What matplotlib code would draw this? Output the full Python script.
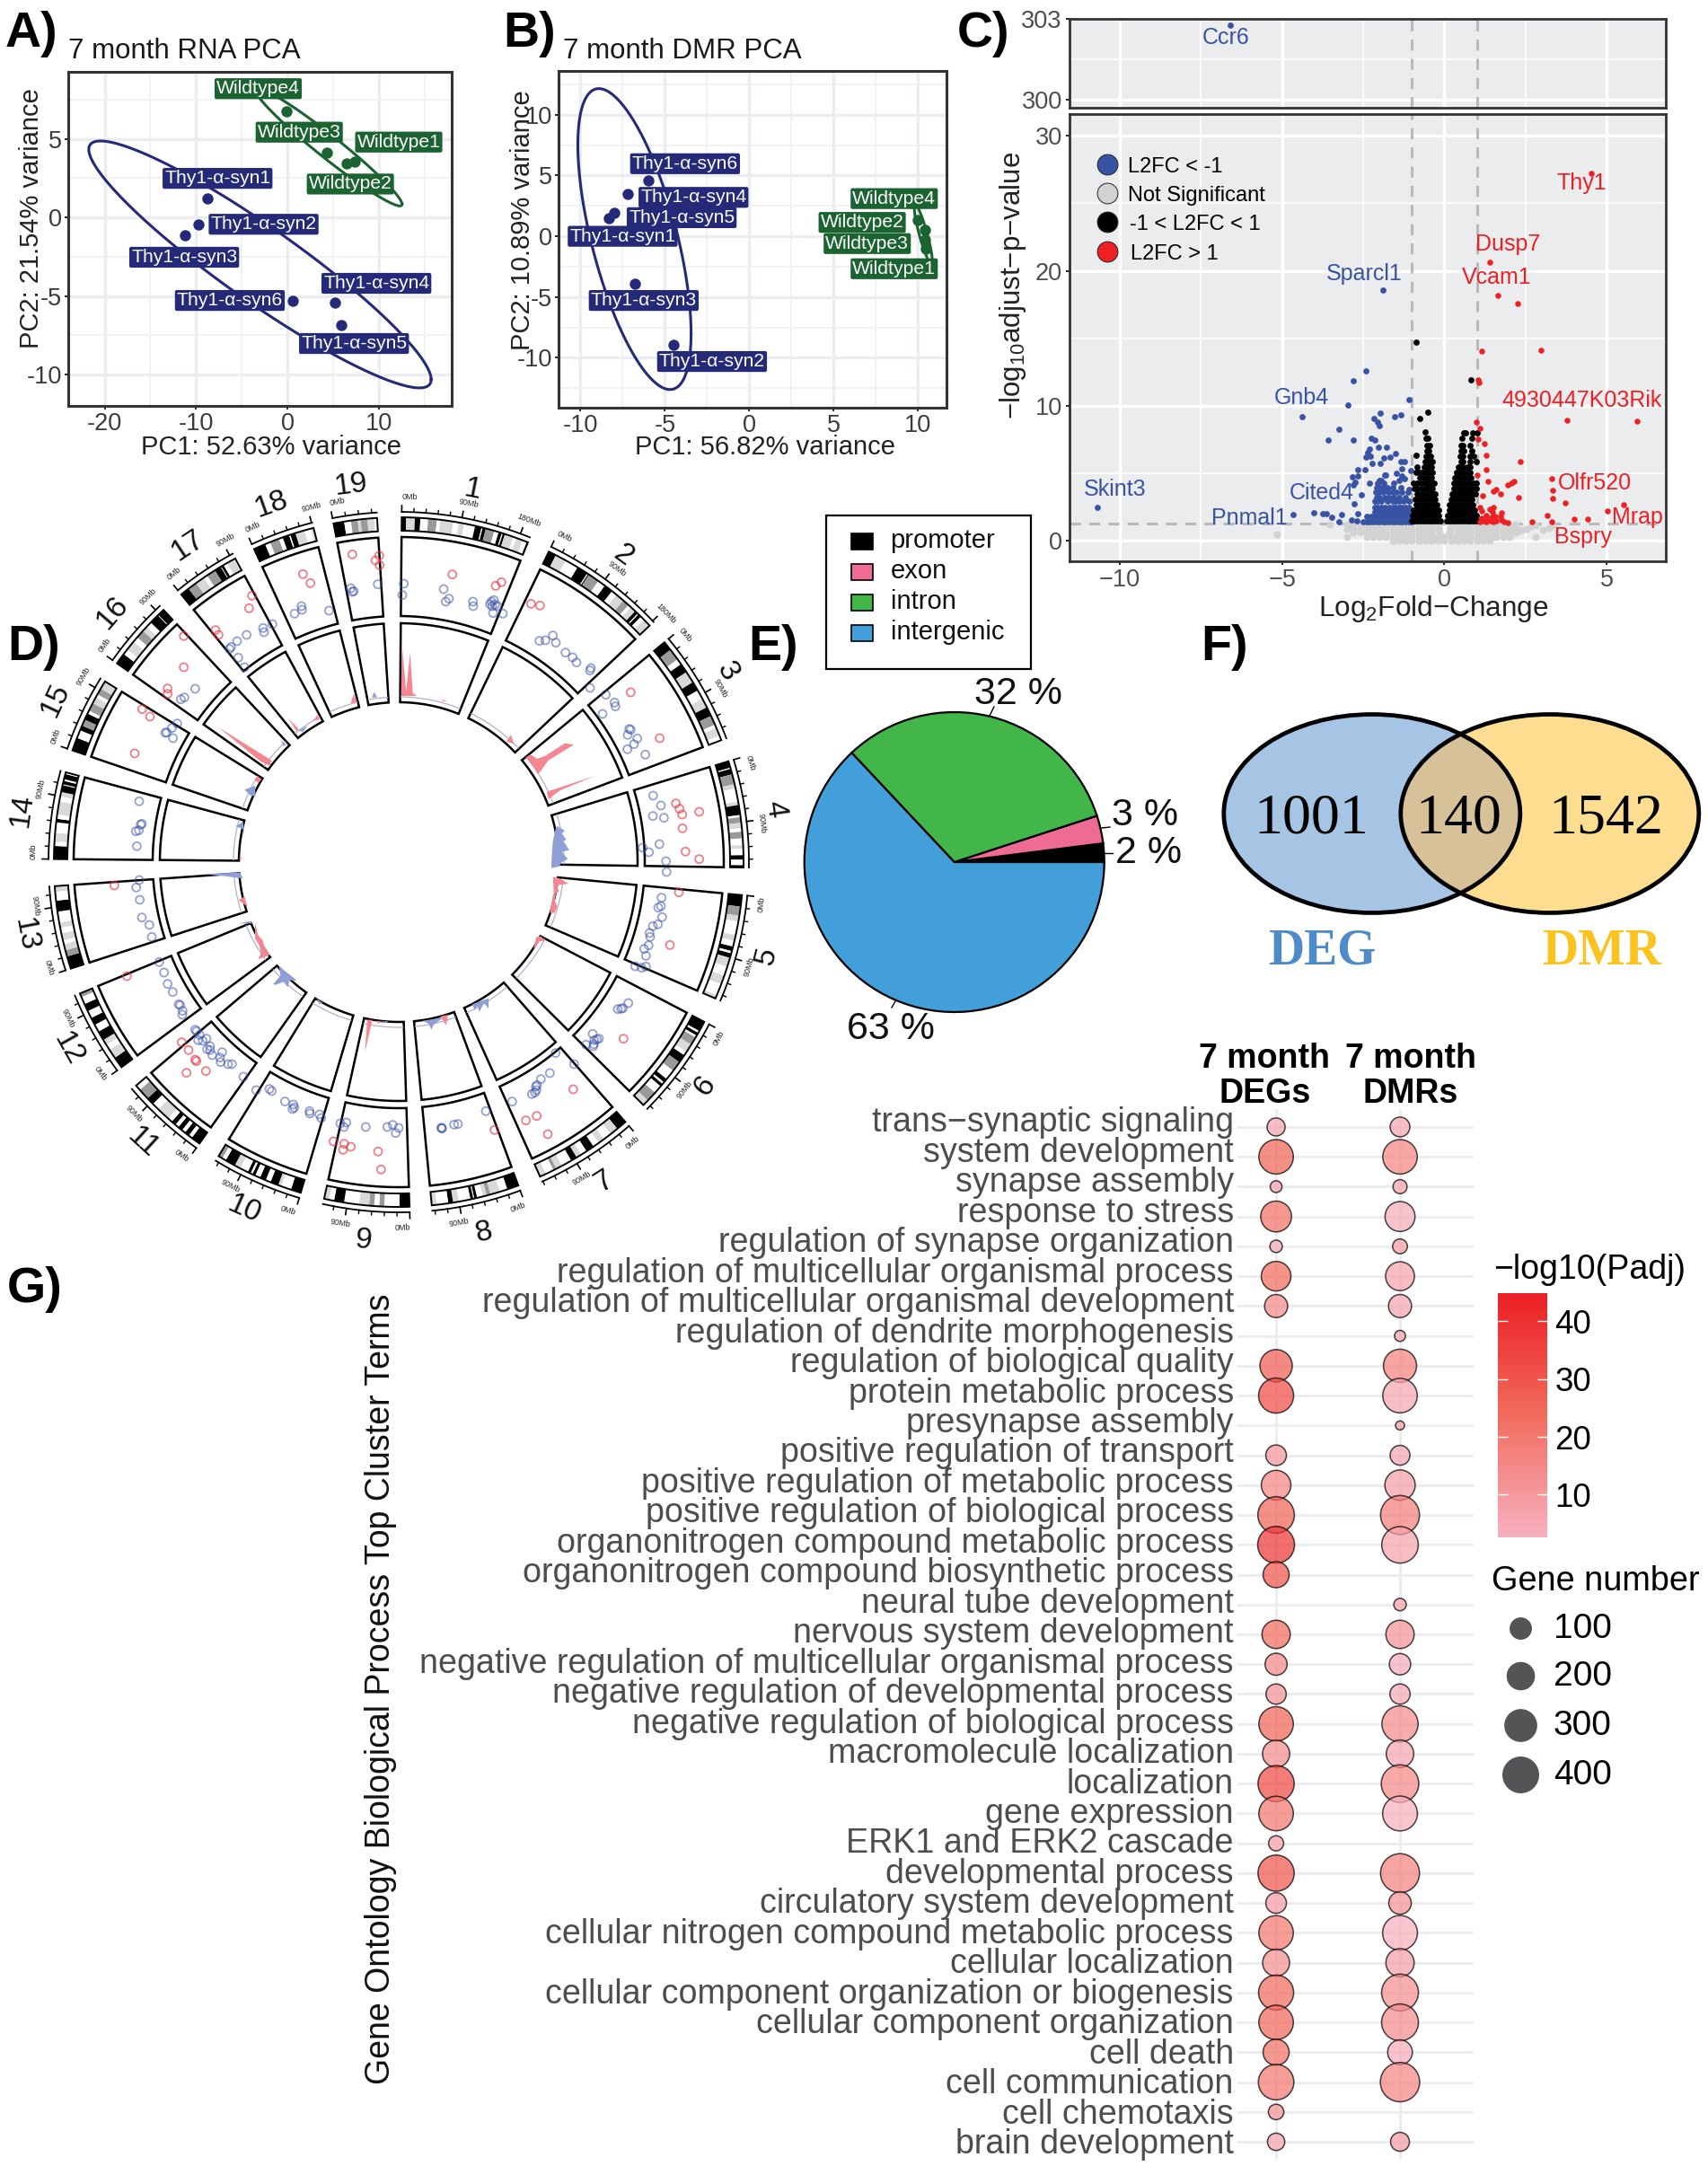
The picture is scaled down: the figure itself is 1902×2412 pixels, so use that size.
import numpy as np
import matplotlib
matplotlib.use('Agg')
import matplotlib.pyplot as plt
from matplotlib.patches import Ellipse, Rectangle, Polygon
from matplotlib.colors import LinearSegmentedColormap
from matplotlib.transforms import Affine2D

plt.rcParams['font.family'] = ['Liberation Sans', 'DejaVu Sans']
plt.rcParams['mathtext.fontset'] = 'custom'
plt.rcParams['mathtext.rm'] = 'Liberation Sans'
plt.rcParams['mathtext.default'] = 'regular'

W, H = 1902, 2412
NAVY, GREEN = '#252a78', '#1b6331'
VBLUE, VRED = '#3953a4', '#ed2024'

# ---------- Panel A / B data
a_thy_x = [-8.8, -9.7, -11.2, 0.6, 5.2, 5.9]
a_thy_y = [1.2, -0.44, -1.16, -5.29, -5.44, -6.85]
a_wt_x = [-0.1, 4.3, 6.5, 7.4]
a_wt_y = [6.77, 4.12, 3.43, 3.57]
a_labels = ['Thy1-α-syn1', 'Thy1-α-syn2', 'Thy1-α-syn3', 'Thy1-α-syn6', 'Thy1-α-syn4', 'Thy1-α-syn5',
            'Wildtype4', 'Wildtype3', 'Wildtype1', 'Wildtype2']
a_lab_x = [-7.65, -2.6, -11.3, -6.3, 9.75, 7.3, -3.2, 1.3, 12.2, 6.9]
a_lab_y = [2.48, -0.44, -2.54, -5.29, -4.2, -8.03, 8.19, 5.42, 4.79, 2.12]
b_thy_x = [-6, -7.2, -8.0, -8.3, -6.8, -4.5]
b_thy_y = [4.6, 3.46, 1.9, 1.46, -3.9, -8.9]
b_wt_x = [10, 10.4, 10.4, 10.5]
b_wt_y = [1.36, 0.5, -0.25, -1.0]
b_labels = ['Thy1-α-syn6', 'Thy1-α-syn4', 'Thy1-α-syn5', 'Thy1-α-syn1', 'Thy1-α-syn3', 'Thy1-α-syn2',
            'Wildtype4', 'Wildtype2', 'Wildtype3', 'Wildtype1']
b_lab_x = [-3.8, -3.3, -4.0, -7.5, -6.25, -2.2, 8.6, 6.7, 7.0, 8.6]
b_lab_y = [5.97, 3.2, 1.53, 0, -5.28, -10.3, 3.1, 1.14, -0.6, -2.67]

# ---------- Panel C data
ccr6 = (-6.6, 302.78)
blue_x = [-10.7, -1.89, -2.41, -2.81, -1.1, -2.97, -4.39, -1.97, -1.53, -1.35, -2.18, -2.06, -2.01, -3.25, -3.58,
          -2.81, -2.26, -2.13, -2.3, -2.02, -1.79, -2.36, -2.41, -2.29, -1.51, -1.67, -1.87, -2.22, -1.97, -1.35,
          -1.24, -2.67, -2.45, -1.48, -1.3, -1.85, -1.81, -1.04, -2.84, -2.68, -2.75, -2.82, -2.3, -1.3, -1.23,
          -2.55, -1.09, -2.78, -4.65, -4.02, -3.74, -3.63, -3.47, -3.16, -3.25, -2.86, -2.68, -2.7]
blue_y = [2.48, 18.58, 12.62, 11.89, 10.49, 10.05, 9.18, 9.45, 9.18, 9.31, 9.05, 8.83, 8.52, 8.29, 7.47,
          7.47, 7.58, 7.45, 6.79, 6.92, 6.92, 6.56, 6.21, 6.3, 6.48, 6.21, 6.17, 5.72, 5.72, 5.85,
          5.9, 5.28, 5.28, 5.01, 5.35, 4.9, 4.9, 5.23, 4.75, 4.79, 4.35, 4.17, 4.26, 4.79, 4.61,
          3.42, 3.81, 2.73, 1.95, 2.11, 2.0, 2.04, 1.73, 1.97, 1.4, 1.55, 2.0, 1.46]
blue_rows = {1.45: [-2.5, -2.4, -2.3, -2.2, -2.1, -2.0, -1.9, -1.8, -1.7, -1.6, -1.5, -1.4, -1.3, -1.2, -1.1, -1.02],
             1.8: [-2.4, -2.25, -2.15, -2.05, -1.95, -1.85, -1.75, -1.65, -1.55, -1.45, -1.35, -1.25, -1.15, -1.05],
             2.15: [-2.15, -2.05, -1.95, -1.85, -1.75, -1.65, -1.55, -1.45, -1.35, -1.25, -1.15, -1.03],
             2.5: [-2.15, -2.05, -1.95, -1.85, -1.7, -1.6, -1.5, -1.4, -1.3, -1.2, -1.1],
             2.95: [-2.15, -2.05, -1.95, -1.75, -1.6, -1.5, -1.4, -1.25, -1.1],
             3.25: [-2.1, -2.0, -1.85, -1.7, -1.55, -1.4, -1.2],
             3.6: [-2.12, -2.02, -1.9, -1.72, -1.6, -1.47, -1.3, -1.12],
             3.95: [-2.08, -1.98, -1.85, -1.75, -1.6, -1.35],
             4.3: [-2.05, -1.87, -1.55],
             4.5: [-2.0, -1.95, -1.4]}
black_x = [-0.88, 0.82, -0.77, -0.52, -0.6, -0.86]
black_y = [14.7, 11.9, 9.05, 9.51, 8.07, 6.34]
black_rows = {1.5: [-1.0, -.92, -.84, -.76, -.68, -.6, -.52, -.44, -.36, -.28, -.2, -.13,
                    .08, .16, .24, .32, .4, .48, .56, .64, .72, .8, .88, .96, 1.03],
              1.9: [-.98, -.9, -.82, -.74, -.66, -.58, -.5, -.42, -.34, -.26, -.18,
                    .1, .18, .26, .34, .42, .5, .58, .66, .74, .82, .9, .98],
              2.3: [-.95, -.87, -.79, -.71, -.63, -.55, -.47, -.39, -.31, -.23, -.17,
                    .14, .22, .3, .38, .46, .54, .62, .7, .78, .86, .94],
              2.7: [-.88, -.8, -.72, -.64, -.56, -.48, -.4, -.32, -.24,
                    .16, .24, .32, .4, .48, .56, .64, .72, .8, .88],
              3.1: [-.9, -.8, -.7, -.62, -.54, -.46, -.38, -.3,
                    .2, .28, .36, .44, .52, .6, .68, .76, .84],
              3.5: [-.85, -.76, -.68, -.6, -.52, -.44, -.36, -.3,
                    .24, .32, .4, .48, .56, .64, .72, .8, .88, .96],
              3.9: [-.92, -.84, -.7, -.6, -.52, -.44, -.36,
                    .28, .36, .44, .52, .6, .68, .76, .84, .98],
              4.3: [-.95, -.85, -.72, -.62, -.54, -.46, -.38, -.33,
                    .3, .38, .46, .54, .62, .7, .78, .9, .98],
              4.7: [-.75, -.65, -.56, -.48, -.4, .33, .41, .49, .57, .65, .73, .81],
              5.1: [-.88, -.78, -.7, -.6, -.52, -.44, -.38, .38, .46, .54, .62, .7, .78],
              5.5: [-.85, -.62, -.54, -.46, -.4, .42, .5, .58, .7, .78],
              5.9: [-.6, -.52, -.44, -.38, .5, .58, .78, .98],
              6.3: [-.58, -.5, -.42, .48, .56, .78, .9],
              6.7: [-.55, -.47, .5, .6, .85],
              7.1: [-.55, -.46, .5, .58, .8],
              7.6: [-.58, -.5, .55, .85],
              8.0: [.6, .65, .88, 1.0]}
red_x = [4.52, 1.39, 1.64, 2.25, 1.16, 2.97, 1.05, 1.07, .99, 1.08, 1.03, 1.23, 3.77, 5.93, 1.3, 2.33, 1.3, 1.01, 1.33,
         2.14, 2.05, 1.96, 3.3, 3.34, 3.34, 3.71, 1.51, 1.6, 1.72, 1.19, 2.27, 5.53, 5.01, 3.16, 3.32, 4.01, 4.41, 2.7,
         1.1, 1.16, 1.4, 1.51, 1.47, 1.28, 1.14, 1.2, 1.33, 1.45, 1.55, 1.75, 1.72, 1.42, 1.3, 1.1, 1.5, 1.6, 1.75, 1.85,
         1.95]
red_y = [27.2, 20.66, 18.2, 17.57, 14.06, 14.1, 11.95, 11.75, 8.8, 8.36, 7.54, 7.2, 8.94, 8.87, 6.37, 5.9, 5.26, 4.9, 4.44,
         4.41, 4.3, 4.12, 4.59, 3.73, 3.13, 2.84, 3.68, 3.79, 3.46, 3.33, 3.22, 2.66, 2.22, 1.86, 1.44, 1.64, 1.62, 1.4,
         2.46, 2.24, 2.35, 2.5, 2.13, 1.9, 1.7, 1.5, 1.6, 1.75, 1.85, 2.1, 1.85, 1.5, 1.45, 1.4, 1.45, 1.5, 1.55, 1.45,
         1.35]
grey_x = [-5.17, -3.0, -3.53, 2.82, 3.03, 3.22, 3.34, 2.25, 2.39, 2.53, 2.67, 2.8]
grey_y = [.47, .31, 1.24, .29, .84, .95, 1.13, .69, .8, .91, 1.06, 1.13]
grey_rows = {1.2: [-3.0, -2.8, -2.6, -2.4, -2.2, -2.0, -1.8, -1.6, -1.4, -1.2, -1.0, -.8, -.6, -.4, -.2,
                   .2, .4, .6, .8, 1.0, 1.2, 1.4, 1.6, 1.8, 2.0, 2.2],
             .9: [-3.0, -2.8, -2.6, -2.4, -2.2, -2.0, -1.8, -1.6, -1.4, -1.2, -1.0, -.8, -.6, -.4, -.17,
                  .17, .4, .6, .8, 1.0, 1.2, 1.4, 1.6, 1.8, 2.0, 2.2],
             .6: [-2.8, -2.6, -2.4, -2.2, -2.0, -1.8, -1.6, -1.4, -1.2, -1.0, -.8, -.6, -.4, -.14,
                  .14, .4, .6, .8, 1.0, 1.2, 1.4, 1.6, 1.8, 2.0, 2.2],
             .3: [-2.4, -2.2, -2.0, -1.8, -1.6, -1.4, -1.2, -1.0, -.8, -.6, -.4, -.2, 0,
                  .2, .4, .6, .8, 1.0, 1.2, 1.4, 1.6, 1.8, 2.0],
             .05: [-1.6, -1.4, -1.2, -1.0, -.8, -.6, -.4, -.2, 0, .2, .4, .6, .8, 1.0, 1.2, 1.4]}
gene_names = ['Thy1', 'Dusp7', 'Vcam1', 'Sparcl1', 'Gnb4', '4930447K03Rik', 'Olfr520', 'Skint3', 'Cited4', 'Pnmal1',
              'Mrap', 'Bspry']
gene_x = [4.23, 1.95, 1.62, -2.48, -4.4, 4.23, 4.63, -10.14, -3.79, -6.0, 5.95, 4.27]
gene_y = [26.45, 21.95, 19.47, 19.8, 10.6, 10.4, 4.27, 3.8, 3.58, 1.66, 1.74, 0.32]
gene_col = [VRED, VRED, VRED, VBLUE, VBLUE, VRED, VRED, VBLUE, VBLUE, VBLUE, VRED, VRED]

# ---------- Panel D data (circos)
chrom_names = [str(i) for i in range(1, 20)]
chrom_mb = [195, 182, 160, 156, 152, 150, 145, 130, 124, 131, 122, 120, 120, 125, 104, 98, 95, 91, 61]
chrom_start = [.5, 25.8, 50.4, 73, 95.5, 117.6, 138.9, 159.7, 178.2, 196.5, 215.3, 233.5, 252, 270.5, 288.9, 305.2,
               320.9, 335.2, 349.1]
chrom_end = [22, 46.7, 69.3, 90.9, 113.3, 134.8, 155.8, 174.5, 192.5, 211.5, 229.6, 247.6, 266, 285.1, 301.6, 317,
             331.7, 345.7, 356.4]
ideo = ['k4 l8 k5 w7 g8 w3 l12 w5 l5 w10 k6 w1 k3 g8 w4 k3 w1 k2 l8 w3 l6 w4 k1',
        'k7 l10 w12 k10 w1 k1 g10 w7 k8 w5 l8 g6 w3 l5 k3 w1 k3 w4 l7',
        'k8 g10 w5 k8 l10 k8 w8 l8 k8 g8 w3 l7 w4',
        'k6 w1 k5 g9 l4 w12 l3 k9 w2 g5 l5 w3 g6 w6 l3 w6 k4 w5 k2',
        'k10 g8 l5 w12 l5 w5 k4 w2 k4 l8 w8 l8 w10 l3',
        'k10 w2 k3 w2 g8 l8 w4 k8 g10 w10 k4 w2 k3 w8 g10 l6',
        'k10 l8 w8 l6 w6 k8 w6 l5 k6 w10 l6 g3 w8 l6',
        'k12 w8 l10 g4 l4 w6 k3 w1 k3 w12 l6 k5 w12 l5',
        'k8 w12 g4 w4 g4 l8 w12 k8 w4 l4',
        'k10 w10 l3 k8 w5 k6 w5 k3 w2 k3 w8 l6 k10 w4 g4',
        'k10 w4 k5 w4 k5 w4 k5 w5 l14 w8 k8 g12 w6',
        'k12 l10 w6 l6 k10 w8 k8 w8 k8 w8 g4',
        'k14 g7 l7 w4 l8 w6 l6 w12 k12 w10 l6',
        'k15 w5 l10 w12 k4 w5 l15 w6 l5 k8 w1 k4 w2 k6 w2',
        'k16 w10 k6 g8 k8 w4 g10 l8 w4 g8 l10',
        'k16 w8 l14 w8 g12 l8 w8 k14 w1 k10',
        'k14 g14 l14 w6 g14 k10 w1 k4 w6 l12 w2',
        'k18 w8 g14 w6 k10 w2 k8 l14 w10 l4',
        'k22 w14 g14 l6 g14 l14 w6']
# circos points, read per quadrant (x, y measured from the quadrant's outer corner)
blue_q1 = [(17,270),(12,308),(150,288),(168,320),(157,330),(248,330),(249,345),(310,330),(318,325),(305,338),(322,340),
           (312,345),(330,345),(315,368),(348,370),(470,461),(490,459),(515,443),(525,467),(557,500),(581,516),(594,533),
           (642,552),(639,560),(639,618),(692,641),(721,667),(724,680),(681,705),(770,755),(775,758),(765,775),(797,787),
           (786,806),(764,823),(824,841),(850,978),(876,1011),(849,1046),(886,1052),(871,1140),(815,1152),(836,1167),(893,1197)]
red_q1 = [(179,239),(343,265),(324,277),(442,337),(472,343),(775,633),(872,786),(926,1004),(938,1022),(947,1041),(1004,1032),
          (948,1087),(958,1165),(1004,1190)]
blue_q2 = [(895,33),(878,119),(876,147),(867,152),(880,184),(866,208),(849,214),(838,237),(840,250),(835,278),(820,290),
           (826,313),(826,349),(811,353),(790,348),(767,471),(749,488),(743,490),(732,491),(648,574),(669,590),(662,592),
           (653,595),(626,610),(650,615),(652,608),(524,638),(586,675),(505,705),(475,725),(462,745),(458,750),(460,762),
           (445,775),(455,770),(379,800),(291,832),(198,875),(185,877),(143,888),(143,888),(145,890)]
red_q2 = [(936,101),(906,277),(751,590),(583,759),(461,848),(425,863),(498,909),(320,895)]
blue_q3 = [(333,60),(323,85),(335,126),(342,185),(367,210),(375,250),(400,334),(416,369),(428,407),(445,434),(465,475),
           (470,478),(478,497),(477,510),(520,560),(525,565),(535,577),(530,595),(545,597),(558,590),(570,615),(560,625),
           (570,628),(577,645),(610,635),(603,653),(605,668),(630,675),(643,675),(681,717),(724,762),(768,758),(776,765),
           (820,800),(848,810),(845,825),(851,820),(902,832),(903,840),(935,843),(941,855),(1005,873),(1025,870),(1017,885),
           (1090,885),(1162,885),(1180,878),(1190,905),(1200,888)]
red_q3 = [(250,78),(292,381),(475,602),(498,628),(520,660),(524,665),(491,704),(556,698),(982,933),(1018,941),(1040,951),
          (1014,961),(1131,967),(1141,1027)]
blue_q4 = [(1130,272),(1040,285),(1050,295),(1045,297),(967,360),(875,345),(877,357),(852,370),(778,405),(747,418),(750,432),
           (692,441),(660,462),(640,481),(635,488),(664,517),(685,549),(520,621),(484,650),(472,656),(460,737),(442,752),
           (425,767),(420,768),(446,786),(333,997),(342,1072),(338,1075),(332,1094),(322,1097),(325,1147)]
red_q4 = [(1045,172),(1135,176),(1122,192),(1136,208),(880,238),(905,268),(710,310),(700,352),(588,425),(598,441),(482,445),
          (482,549),(428,620),(428,638),(343,689),(369,714),(318,837)]
# density-track peaks per quadrant
peaks_red_q1 = [[(8,645),(10,465),(25,630),(38,500),(47,635),(60,645)], [(140,660),(150,658),(165,665)],
                [(360,797),(375,775),(385,805)],
                [(425,850),(440,840),(462,855),(490,845),(555,803),(585,808),(500,860),(475,895),(465,905),(445,875)],
                [(495,965),(655,912),(540,960),(500,990)]]
peaks_blue_q1 = [[(525,1085),(530,1080),(555,1095),(545,1105),(560,1125),(550,1130),(570,1160),(545,1165),(565,1190),(545,1200),(510,1200),(515,1130)]]
peaks_blue_q2 = [[(510,0),(545,0),(535,15),(510,20)],
                 [(245,475),(300,455),(300,490),(285,470),(270,500),(262,480),(255,495)],
                 [(80,530),(150,520),(135,530),(115,545),(110,560),(100,540)]]
peaks_red_q2 = [[(515,50),(530,52),(568,72),(530,77),(535,98),(525,105),(522,130),(530,150),(520,170),(505,170),(510,135),(518,100)],
                [(460,250),(475,248),(490,262),(470,265),(460,280),(450,290)],
                [(140,515),(165,510),(158,545)]]
peaks_red_q3 = [[(1095,527),(1112,527),(1087,635)], [(1120,530),(1135,540),(1140,532)],
                [(720,200),(730,245),(745,260),(750,280),(770,310),(730,325),(740,305),(735,280),(720,255)],
                [(665,127),(685,115),(695,150)]]
peaks_blue_q3 = [[(1140,532),(1160,538),(1165,532)], [(925,455),(945,470),(935,475)],
                 [(800,345),(815,360),(860,395),(835,395),(830,418),(815,400),(790,410),(780,408),(805,380)],
                 [(665,205),(700,198),(718,205)], [(545,40),(670,35),(680,55),(620,47)]]
peaks_blue_q4 = [[(680,1065),(685,1120),(680,1090),(655,1080)], [(685,958),(720,945),(722,980),(705,978)],
                 [(805,790),(825,810),(815,812)], [(865,760),(895,745),(880,765)], [(1110,650),(1118,632),(1128,650)]]
peaks_red_q4 = [[(670,1170),(675,1190),(668,1190)], [(718,925),(728,912),(742,925),(730,935)],
                [(598,750),(775,860),(770,878),(740,865)], [(830,718),(865,755),(860,765)],
                [(915,725),(930,708),(935,725)], [(1040,668),(1050,638),(1060,668)]]

# ---------- Panel E / F data
pie_values = [2, 3, 32, 63]
pie_names = ['promoter', 'exon', 'intron', 'intergenic']
pie_colors = ['#000000', '#ee6c92', '#43b649', '#429fda']
pie_text = ['2 %', '3 %', '32 %', '63 %']
venn_counts = [1001, 140, 1542]
venn_names = ['DEG', 'DMR']

# ---------- Panel G data
terms = ['trans−synaptic signaling', 'system development', 'synapse assembly', 'response to stress',
         'regulation of synapse organization', 'regulation of multicellular organismal process',
         'regulation of multicellular organismal development', 'regulation of dendrite morphogenesis',
         'regulation of biological quality', 'protein metabolic process', 'presynapse assembly',
         'positive regulation of transport', 'positive regulation of metabolic process',
         'positive regulation of biological process', 'organonitrogen compound metabolic process',
         'organonitrogen compound biosynthetic process', 'neural tube development', 'nervous system development',
         'negative regulation of multicellular organismal process', 'negative regulation of developmental process',
         'negative regulation of biological process', 'macromolecule localization', 'localization', 'gene expression',
         'ERK1 and ERK2 cascade', 'developmental process', 'circulatory system development',
         'cellular nitrogen compound metabolic process', 'cellular localization',
         'cellular component organization or biogenesis', 'cellular component organization', 'cell death',
         'cell communication', 'cell chemotaxis', 'brain development']
nan = float('nan')
deg_n = [51, 338, 14, 250, 16, 224, 110, nan, 285, 352, nan, 78, 224, 393, 401, 157, nan, 197, 96, 74, 338, 177, 383,
         338, 29, 383, 78, 338, 173, 352, 338, 157, 364, 31, 45]
dmr_n = [68, 338, 23, 232, 27, 209, 110, 12, 304, 338, 10, 69, 240, 463, 393, nan, 16, 197, 87, 74, 383, 183, 421, 347,
         nan, 463, 102, 347, 197, 401, 401, 135, 474, nan, 59]
deg_p = [6, 26, 7, 22, 5, 24, 15, nan, 28, 32, nan, 11, 16, 26, 38, 30, nan, 24, 15, 12, 26, 14, 33, 20, 8, 30, 9, 20,
         13, 24, 25, 22, 20, 12, 7]
dmr_p = [6, 16, 7, 4, 8, 7, 6, 6, 17, 6, 8, 6, 8, 18, 7, nan, 7, 12, 4, 5, 14, 6, 15, 3, nan, 17, 12, 3, 8, 13, 14, 4,
         16, nan, 9]
legend_counts = [100, 200, 300, 400]

# ---------- helpers
fig = plt.figure(figsize=(W / 100, H / 100), dpi=100, facecolor='white')


def axpx(l, t, r, b, **kw):
    return fig.add_axes([l / W, 1 - b / H, (r - l) / W, (b - t) / H], **kw)


def pair_rows(rows):
    xs, ys = [], []
    for y, vals in rows.items():
        xs += vals
        ys += [y] * len(vals)
    return xs, ys


def ellipse_curve(x, y, k=2.4):
    pts = np.c_[x, y]
    c = np.cov(pts.T)
    L = np.linalg.cholesky(c)
    t = np.linspace(0, 2 * np.pi, 200)
    e = pts.mean(0) + k * (L @ np.c_[np.cos(t), np.sin(t)].T).T
    return e[:, 0], e[:, 1]


def pca_panel(box, xlim, ylim, xt, xtl, yt, ytl, xm, ym, thy, wt, labels, lx, ly):
    ax = axpx(*box)
    ax.set_xlim(xlim)
    ax.set_ylim(ylim)
    ax.set_xticks(xt, xtl)
    ax.set_yticks(yt, ytl)
    ax.set_xticks(xm, minor=True)
    ax.set_yticks(ym, minor=True)
    ax.grid(which='major', color='#ebedf0', lw=2.4)
    ax.grid(which='minor', color='#f0f0f2', lw=1.2)
    ax.set_axisbelow(True)
    ax.tick_params(which='minor', length=0)
    ax.tick_params(which='major', length=3, width=1.2, labelsize=19.5, labelcolor='#3a3a3a', pad=2)
    for s in ax.spines.values():
        s.set_linewidth(2.2)
        s.set_color('#333333')
    for (x, y), col in ((thy, NAVY), (wt, GREEN)):
        ex, ey = ellipse_curve(x, y)
        ax.plot(ex, ey, color=col, lw=2.2, zorder=2)
        ax.scatter(x, y, s=80, color=col, zorder=3, lw=0)
    for n, x, y in zip(labels, lx, ly):
        col = GREEN if n.startswith('Wild') else NAVY
        ax.text(x, y, n, color='white', fontsize=15.2, ha='center', va='center', zorder=4, clip_on=False,
                bbox=dict(boxstyle='round,pad=0.1,rounding_size=0.1', fc=col, ec='none'))
    return ax


ax_a = pca_panel((76, 80, 503, 452), (-24, 18), (-12, 9.26), [-20, -10, 0, 10], ['-20', '-10', '0', '10'],
                 [-10, -5, 0, 5], ['-10', '-5', '0', '5'], [-15, -5, 5, 15], [-7.5, -2.5, 2.5, 7.5],
                 (a_thy_x, a_thy_y), (a_wt_x, a_wt_y), a_labels, a_lab_x, a_lab_y)
ax_b = pca_panel((622, 79, 1054, 454), (-11.3, 11.7), (-14.1, 13.6), [-10, -5, 0, 5, 10], ['-10', '-5', '0', '5', '10'],
                 [-10, -5, 0, 5, 10], ['-10', '-5', '0', '5', '10'], [-7.5, -2.5, 2.5, 7.5],
                 [-12.5, -7.5, -2.5, 2.5, 7.5, 12.5],
                 (b_thy_x, b_thy_y), (b_wt_x, b_wt_y), b_labels, b_lab_x, b_lab_y)

# ---------- Panel C
GBG = '#ebecee'
xl = (-11.55, 6.82)
c_top = axpx(1191, 21, 1855, 120)
c_bot = axpx(1191, 127, 1855, 625)
for ax in (c_top, c_bot):
    ax.set_facecolor(GBG)
    ax.set_xlim(xl)
    ax.set_xticks([-10, -5, 0, 5])
    ax.set_xticks([-7.5, -2.5, 2.5], minor=True)
    ax.grid(which='major', color='white', lw=2.4)
    ax.grid(which='minor', color='white', lw=1.2)
    ax.set_axisbelow(True)
    ax.tick_params(which='minor', length=0)
    ax.tick_params(which='major', length=3, width=1.2, labelsize=19.5, labelcolor='#4d4d4d', pad=3)
    for s in ax.spines.values():
        s.set_linewidth(2)
        s.set_color('#333333')
    for v in (-1, 1):
        ax.axvline(v, color='#b9b9b9', lw=2.2, ls=(0, (4, 3)), zorder=1)
c_top.set_ylim(299.71, 303)
c_top.set_yticks([300, 303])
c_top.set_yticks([301.5], minor=True)
c_top.tick_params(axis='x', bottom=False, labelbottom=False)
c_top.scatter([ccr6[0]], [ccr6[1]], s=24, color=VBLUE, zorder=3, lw=0)
c_top.text(-6.72, 302.29, 'Ccr6', color=VBLUE, fontsize=18, ha='center', va='center')
c_bot.set_ylim(-1.5, 31.6)
c_bot.set_yticks([0, 10, 20, 30])
c_bot.set_yticks([5, 15, 25], minor=True)
c_bot.axhline(1.3, color='#b9b9b9', lw=2.2, ls=(0, (4, 3)), zorder=1)
gx, gy = pair_rows(grey_rows)
c_bot.scatter(gx + grey_x, gy + grey_y, s=34, color='#d2d2d2', zorder=2, lw=0)
bx, by = pair_rows(blue_rows)
c_bot.scatter(blue_x + bx, blue_y + by, s=24, color=VBLUE, zorder=3, lw=0)
kx, ky = pair_rows(black_rows)
c_bot.scatter(black_x + kx, black_y + ky, s=24, color='black', zorder=3, lw=0)
c_bot.scatter(red_x, red_y, s=22, color=VRED, zorder=3, lw=0)
for n, x, y, col in zip(gene_names, gene_x, gene_y, gene_col):
    c_bot.text(x, y, n, color=col, fontsize=18, ha='center', va='center', zorder=5)

# ---------- Panel D
ax_d = axpx(4, 520, 884, 1400)
ax_d.set_xlim(-1320, 1320)
ax_d.set_ylim(-1320, 1320)
ax_d.axis('off')
U = 3.0


def polar_xy(theta_deg, r):
    t = np.radians(theta_deg)
    return U * r * np.sin(t), U * r * np.cos(t)


def sector_poly(t0, t1, r0, r1):
    t = np.linspace(t0, t1, 40)
    xa, ya = polar_xy(t, r1)
    xb, yb = polar_xy(t[::-1], r0)
    return np.c_[np.r_[xa, xb], np.r_[ya, yb]]


SHADE = {'k': '#000000', 'g': '#9a9a9a', 'l': '#d9d9d9', 'w': '#ffffff'}
for name, mb, t0, t1, bands in zip(chrom_names, chrom_mb, chrom_start, chrom_end, ideo):
    ax_d.add_patch(Polygon(sector_poly(t0, t1, 274, 362), closed=True, fc='none', ec='black', lw=1.8))
    ax_d.add_patch(Polygon(sector_poly(t0, t1, 178, 266), closed=True, fc='none', ec='black', lw=1.8))
    xb, yb = polar_xy(np.linspace(t0 + .3, t1 - .3, 40), 184)
    ax_d.plot(xb, yb, color='#b5aed0', lw=0.9, zorder=1)
    parts = [(p[0], float(p[1:])) for p in bands.split()]
    tot = sum(v for _, v in parts)
    cur = t0
    for c, v in parts:
        nxt = cur + (t1 - t0) * v / tot
        ax_d.add_patch(Polygon(sector_poly(cur, nxt, 369, 384), closed=True, fc=SHADE[c], ec='none'))
        cur = nxt
    ax_d.add_patch(Polygon(sector_poly(t0, t1, 369, 384), closed=True, fc='none', ec='black', lw=1.4))
    xa, ya = polar_xy(np.linspace(t0, t1, 40), 390)
    ax_d.plot(xa, ya, color='black', lw=1.3)
    deg_per_mb = (t1 - t0) / mb
    for tick in np.arange(0, mb + 1, 18):
        th = t0 + tick * deg_per_mb
        major = tick % 90 == 0
        x0, y0 = polar_xy(th, 390)
        x1, y1 = polar_xy(th, 397 if major else 394)
        ax_d.plot([x0, x1], [y0, y1], color='black', lw=1.2 if major else 1.0)
        if major:
            lx, ly = polar_xy(th + (0.6 if tick else 1.2), 407)
            rot = 180 - th if 90 < th < 270 else -th
            ax_d.text(lx, ly, f'{tick}Mb', fontsize=6.5, ha='center', va='center', rotation=rot,
                      rotation_mode='anchor', color='#222222')
    mid = (t0 + t1) / 2
    lx, ly = polar_xy(mid, 423)
    rot = 180 - mid if 90 < mid < 270 else -mid
    ax_d.text(lx, ly, name, fontsize=24, ha='center', va='center', rotation=rot, rotation_mode='anchor', color='#111111')

QUADS = ((0, 1200), (0, 0), (1200, 0), (1200, 1200))
for (ox, oy), pb, pr in zip(QUADS, (blue_q1, blue_q2, blue_q3, blue_q4), (red_q1, red_q2, red_q3, red_q4)):
    b = np.array(pb, float)
    r = np.array(pr, float)
    ax_d.scatter(b[:, 0] - ox, oy - b[:, 1], s=42, facecolors='none', edgecolors='#3f55a8', alpha=.55, lw=1.3, zorder=3)
    ax_d.scatter(r[:, 0] - ox, oy - r[:, 1], s=42, facecolors='none', edgecolors='#e63a48', alpha=.65, lw=1.3, zorder=3)
for (ox, oy), polys, col in zip(QUADS * 2,
                                (peaks_red_q1, peaks_red_q2, peaks_red_q3, peaks_red_q4,
                                 peaks_blue_q1, peaks_blue_q2, peaks_blue_q3, peaks_blue_q4),
                                ['#f28791'] * 4 + ['#8f9fd6'] * 4):
    for p in polys:
        a = np.array(p, float)
        ax_d.add_patch(Polygon(np.c_[a[:, 0] - ox, oy - a[:, 1]], closed=True, fc=col, ec='none', zorder=2))

# ---------- Panel E
R = 167.0
ax_e = axpx(1062.7 - 190, 960 - 190, 1062.7 + 190, 960 + 190)
ax_e.pie(pie_values, colors=pie_colors, startangle=0, counterclock=True, radius=1,
         wedgeprops=dict(edgecolor='black', linewidth=1.6))
ax_e.set_xlim(-190 / R, 190 / R)
ax_e.set_ylim(-190 / R, 190 / R)

# ---------- Panel G
cmap = LinearSegmentedColormap.from_list('padj', ['#f7b1c0', '#f26c5e', '#ed1f24'])
VMIN, VMAX = 2.64, 44.9


def dot_s(n):
    n = np.asarray(n, float)
    d = 10 + 34 * np.sqrt(np.clip(n - 10, 0, None) / 470)
    return (d * .72) ** 2


ax_g = axpx(1378, 1235, 1641, 2405)
ax_g.set_xlim(0.688, 2.594)
ax_g.set_ylim(34.6, -0.6)
ax_g.set_yticks(range(len(terms)), terms)
ax_g.set_xticks([1, 2], ['', ''])
ax_g.grid(True, color='#ebedf0', lw=2.2)
ax_g.set_axisbelow(True)
ax_g.tick_params(length=0, labelsize=27.1, labelcolor='#4d4d4d', pad=3)
fig.canvas.draw()
for i, lab in enumerate(ax_g.get_yticklabels()):
    dy = 8.6 - 7.6 * i / 34
    lab.set_transform(lab.get_transform() + Affine2D().translate(0, dy))
for s in ax_g.spines.values():
    s.set_visible(False)
rows = np.arange(len(terms))
for col, ns, ps in ((1, deg_n, deg_p), (2, dmr_n, dmr_p)):
    ns = np.array(ns)
    ps = np.array(ps)
    ok = ~np.isnan(ns)
    ax_g.scatter(np.full(ok.sum(), col), rows[ok], s=dot_s(ns[ok]), c=ps[ok], cmap=cmap, vmin=VMIN, vmax=VMAX,
                 alpha=.72, edgecolors='black', linewidths=1.1, zorder=3, clip_on=False)

ax_cb = axpx(1668, 1440, 1723, 1711.6)
ax_cb.imshow(np.linspace(VMAX, VMIN, 256)[:, None], cmap=cmap, vmin=VMIN, vmax=VMAX, aspect='auto',
             extent=[0, 1, VMIN, VMAX])
ax_cb.set_xticks([])
ax_cb.yaxis.tick_right()
ax_cb.set_yticks([10, 20, 30, 40])
ax_cb.tick_params(length=0, labelsize=26.5, pad=6, labelcolor='black')
ax_cb.hlines([10, 20, 30, 40], 0, .2, color='white', lw=1)
ax_cb.hlines([10, 20, 30, 40], .8, 1, color='white', lw=1)
for s in ax_cb.spines.values():
    s.set_visible(False)

# ---------- overlay text and hand-placed annotation
ov = fig.add_axes([0, 0, 1, 1], facecolor='none')
ov.set_xlim(0, W)
ov.set_ylim(H, 0)
ov.axis('off')


def T(x, y, s, size, **kw):
    kw.setdefault('ha', 'left')
    kw.setdefault('va', 'center')
    return ov.text(x, y, s, fontsize=size, **kw)


for s, x, y in (('A)', 6, 52), ('B)', 560, 52), ('C)', 1066, 52), ('D)', 8, 735), ('E)', 833, 735), ('F)', 1337, 735),
                ('G)', 8, 1450)):
    T(x, y, s, 40, family='Liberation Sans', fontweight='bold', va='baseline', color='black')
T(76, 65, '7 month RNA PCA', 22.5, va='baseline', color='#1a1a1a')
T(627, 65, '7 month DMR PCA', 22.5, va='baseline', color='#1a1a1a')
T(302, 498, 'PC1: 52.63% variance', 21, ha='center', color='#222222')
T(852, 498, 'PC1: 56.82% variance', 21, ha='center', color='#222222')
T(35, 243, 'PC2: 21.54% variance', 21, ha='center', rotation=90, color='#222222')
T(582, 245, 'PC2: 10.89% variance', 21, ha='center', rotation=90, color='#222222')
T(1128, 318, '−log$_{10}$adjust−p−value', 22.5, ha='center', rotation=90, color='#222222')
T(1596, 678, 'Log$_{2}$Fold−Change', 22.7, ha='center', color='#222222')
# C legend
for y, c, s, tx in ((183, VBLUE, 'L2FC < -1', 1256), (215, '#d2d2d2', 'Not Significant', 1256),
                    (247, 'black', '-1 < L2FC < 1', 1258), (280, VRED, 'L2FC > 1', 1259)):
    ov.scatter([1232.6], [y], s=270, color=c, edgecolors='#222222', lw=0.7, zorder=5)
    T(tx, y + 3, s, 17, color='black')
# E legend
ov.add_patch(Rectangle((920, 574), 228, 170.5, fc='white', ec='black', lw=1.6, zorder=2))
for y, c, n in zip((603, 637, 670.6, 705), pie_colors, pie_names):
    ov.add_patch(Rectangle((948, y - 9), 24, 18, fc=c, ec='black', lw=1.2, zorder=3))
    T(991.5, y - 1, n, 21, zorder=3, color='#111111')
for s, x, y in zip(pie_text, (1278.6, 1275, 1134, 991.6), (950, 908, 772.6, 1146)):
    T(x, y, s, 31, ha='center', color='#111111')
for x0, y0, x1, y1 in ((1107, 787, 1102, 797), (1227, 922, 1236, 921), (1229, 950, 1239, 950), (997, 1115, 993, 1122)):
    ov.plot([x0, x1], [y0, y1], color='black', lw=1)
# F venn
e1 = Ellipse((1527.8, 906), 330, 221, fc='#a6c4e4', ec='none', zorder=1)
e2 = Ellipse((1725.8, 906), 332, 221, fc='#fdde90', ec='none', zorder=1)
ov.add_patch(e1)
ov.add_patch(e2)
over = Ellipse((1527.8, 906), 330, 221, fc='#d6c199', ec='none', zorder=2)
ov.add_patch(over)
over.set_clip_path(Ellipse((1725.8, 906), 332, 221, transform=ov.transData))
for c, w in ((1527.8, 330), (1725.8, 332)):
    ov.add_patch(Ellipse((c, 906), w, 221, fc='none', ec='black', lw=3.4, zorder=3))
for v, x in zip(venn_counts, (1460, 1624, 1788)):
    T(x, 912, str(v), 46, ha='center', family='Liberation Serif', color='black', zorder=4)
T(1472.6, 1060, venn_names[0], 40, ha='center', family='Liberation Serif', fontweight='bold', color='#4f8bc9')
T(1783.6, 1060, venn_names[1], 40, ha='center', family='Liberation Serif', fontweight='bold', color='#fbc31f')
# G titles and legends
T(1408, 1179, '7 month', 27, ha='center', fontweight='bold', color='black')
T(1409, 1218, 'DEGs', 27, ha='center', fontweight='bold', color='black')
T(1571, 1179, '7 month', 27, ha='center', fontweight='bold', color='black')
T(1571, 1218, 'DMRs', 27, ha='center', fontweight='bold', color='black')
T(424, 1881, 'Gene Ontology Biological Process Top Cluster Terms', 27, ha='center', rotation=90, color='#111111')
T(1663, 1414, '−log10(Padj)', 27, color='black')
T(1661, 1761, 'Gene number', 27.3, color='black')
for n, y in zip(legend_counts, (1812.7, 1866, 1921, 1975.7)):
    ov.scatter([1693], [y], s=float(dot_s(n)), color='#545456', lw=0)
    T(1730, y + 1, str(n), 28, color='black')

fig.savefig('out.png', dpi=100, facecolor='white')
